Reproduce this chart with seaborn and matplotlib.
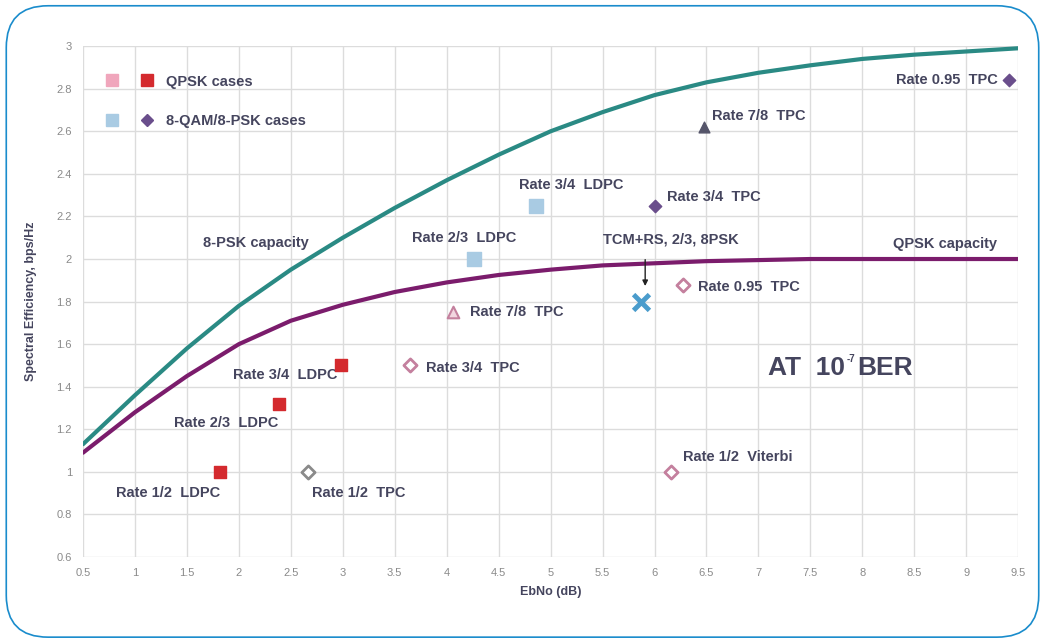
import numpy as np
import pandas as pd
import matplotlib.pyplot as plt
import seaborn as sns
from matplotlib.patches import FancyBboxPatch
from matplotlib.lines import Line2D
from matplotlib.legend_handler import HandlerTuple

# capacity curves
ebno = [0.5, 1, 1.5, 2, 2.5, 3, 3.5, 4, 4.5, 5, 5.5, 6, 6.5, 7, 7.5, 8, 8.5, 9, 9.5]
psk8_cap = [1.13, 1.36, 1.58, 1.78, 1.95, 2.10, 2.24, 2.37, 2.49, 2.60, 2.69, 2.77, 2.83,
            2.875, 2.91, 2.94, 2.96, 2.975, 2.99]
qpsk_cap = [1.09, 1.28, 1.45, 1.60, 1.71, 1.785, 1.845, 1.89, 1.925, 1.95, 1.97, 1.98, 1.99,
            1.995, 2.0, 2.0, 2.0, 2.0, 2.0]

# QPSK LDPC (red squares)
qpsk_ldpc_x = [1.82, 2.39, 2.98]
qpsk_ldpc_y = [1.0, 1.32, 1.5]
# 8-PSK LDPC (light blue squares)
psk8_ldpc_x = [4.26, 4.86]
psk8_ldpc_y = [2.0, 2.25]
# QPSK TPC / Viterbi (open diamonds)
qpsk_tpc_x = [3.65, 6.27, 6.16]
qpsk_tpc_y = [1.5, 1.88, 1.0]
# rate 1/2 TPC (grey open diamond)
tpc12_x = [2.67]
tpc12_y = [1.0]
# QPSK rate 7/8 TPC (open triangle)
qpsk_tpc78_x = [4.06]
qpsk_tpc78_y = [1.75]
# 8-PSK TPC (filled diamonds)
psk8_tpc_x = [6.0, 9.41]
psk8_tpc_y = [2.25, 2.84]
# 8-PSK rate 7/8 TPC (filled triangle)
psk8_tpc78_x = [6.48]
psk8_tpc78_y = [2.62]
# TCM+RS
tcm_x = [5.87]
tcm_y = [1.80]

txt = "#45455e"
teal = "#2a8a84"
purple = "#7b1c6c"
red = "#d42a2e"
pink = "#f0a6bc"
lblue = "#a9cbe3"
dpurple = "#6a4e8c"
pinkline = "#c4809e"

sns.set_theme(style="whitegrid")
plt.rcParams['font.family'] = ['Liberation Sans', 'DejaVu Sans']

fig = plt.figure(figsize=(10.45, 6.41), dpi=100)
ax = fig.add_axes([0.0794, 0.131, 0.895, 0.797])

df = pd.DataFrame({"ebno": ebno, "psk8": psk8_cap, "qpsk": qpsk_cap})
sns.lineplot(data=df, x="ebno", y="psk8", color=teal, lw=3, ax=ax)
sns.lineplot(data=df, x="ebno", y="qpsk", color=purple, lw=3, ax=ax)

ax.scatter(qpsk_ldpc_x, qpsk_ldpc_y, marker="s", s=80, color=red, zorder=5)
ax.scatter(psk8_ldpc_x, psk8_ldpc_y, marker="s", s=110, color=lblue, zorder=5)
ax.scatter(qpsk_tpc_x, qpsk_tpc_y, marker="D", s=45, facecolor="white",
           edgecolor=pinkline, linewidths=2, zorder=5)
ax.scatter(tpc12_x, tpc12_y, marker="D", s=45, facecolor="white",
           edgecolor="#8a8a8a", linewidths=2, zorder=5)
ax.scatter(qpsk_tpc78_x, qpsk_tpc78_y, marker="^", s=70, facecolor="#f2d6e0",
           edgecolor=pinkline, linewidths=1.5, zorder=5)
ax.scatter(psk8_tpc_x, psk8_tpc_y, marker="D", s=40, color=dpurple, zorder=5)
ax.scatter(psk8_tpc78_x, psk8_tpc78_y, marker="^", s=60, color="#55556a", zorder=5)
ax.scatter(tcm_x, tcm_y, marker="x", s=130, color="#4a9ccc", linewidths=3.5, zorder=5)

ax.set_xlim(0.5, 9.5)
ax.set_ylim(0.6, 3.0)
ax.set_xticks(np.arange(0.5, 9.51, 0.5))
ax.set_xticklabels([f"{v:g}" for v in np.arange(0.5, 9.51, 0.5)])
ax.set_yticks(np.arange(0.6, 3.01, 0.2))
ax.set_yticklabels([f"{v:g}" for v in np.round(np.arange(0.6, 3.01, 0.2), 1)])
ax.tick_params(labelsize=8, colors="#8a8a8a", length=0, pad=8)
ax.grid(color="#dcdcdc", lw=1)
for s in ax.spines.values():
    s.set_visible(False)
ax.set_facecolor("white")
ax.set_xlabel("EbNo (dB)", fontsize=9, fontweight="bold", color=txt, labelpad=6)
ax.set_ylabel("Spectral Efficiency, bps/Hz", fontsize=9, fontweight="bold", color=txt, labelpad=14)

fs = 10.5
kw = dict(fontsize=fs, fontweight="bold", color=txt)
ax.text(2.16, 2.075, "8-PSK capacity", ha="center", va="center", **kw)
ax.text(9.3, 2.07, "QPSK capacity", ha="right", va="center", **kw)
ax.text(2.95, 1.455, "Rate 3/4  LDPC", ha="right", va="center", **kw)
ax.text(1.88, 1.23, "Rate 2/3  LDPC", ha="center", va="center", **kw)
ax.text(1.32, 0.90, "Rate 1/2  LDPC", ha="center", va="center", **kw)
ax.text(2.70, 0.90, "Rate 1/2  TPC", ha="left", va="center", **kw)
ax.text(3.80, 1.49, "Rate 3/4  TPC", ha="left", va="center", **kw)
ax.text(4.22, 1.75, "Rate 7/8  TPC", ha="left", va="center", **kw)
ax.text(4.17, 2.10, "Rate 2/3  LDPC", ha="center", va="center", **kw)
ax.text(5.20, 2.35, "Rate 3/4  LDPC", ha="center", va="center", **kw)
ax.text(6.12, 2.29, "Rate 3/4  TPC", ha="left", va="center", **kw)
ax.text(6.55, 2.67, "Rate 7/8  TPC", ha="left", va="center", **kw)
ax.text(9.30, 2.84, "Rate 0.95  TPC", ha="right", va="center", **kw)
ax.text(5.50, 2.09, "TCM+RS, 2/3, 8PSK", ha="left", va="center", **kw)
ax.text(6.42, 1.87, "Rate 0.95  TPC", ha="left", va="center", **kw)
ax.text(6.27, 1.07, "Rate 1/2  Viterbi", ha="left", va="center", **kw)

# "AT 10^-7 BER" with a small superscript
big = dict(fontsize=19, fontweight="bold", color=txt)
t1 = ax.text(7.09, 1.49, "AT  10", ha="left", va="center", **big)
t2 = ax.annotate("-7", xy=(1, 1), xycoords=t1, xytext=(1, -6), textcoords="offset points",
                 ha="left", va="bottom", fontsize=7, fontweight="bold", color=txt)
ax.annotate("BER", xy=(1, 0), xycoords=t1, xytext=(9, 0), textcoords="offset points",
            ha="left", va="bottom", **big)

ax.annotate("", xy=(5.91, 1.86), xytext=(5.91, 2.01),
            arrowprops=dict(arrowstyle="-|>", color="#222222", lw=1, mutation_scale=8))

# legend
h_pink = Line2D([], [], marker="s", ls="", ms=8, color=pink)
h_red = Line2D([], [], marker="s", ls="", ms=8, color=red)
h_blue = Line2D([], [], marker="s", ls="", ms=9, color=lblue)
h_dia = Line2D([], [], marker="D", ls="", ms=6, color=dpurple)
leg = ax.legend([(h_pink, h_red), (h_blue, h_dia)], ["QPSK cases", "8-QAM/8-PSK cases"],
                handler_map={tuple: HandlerTuple(ndivide=None, pad=1.5)},
                loc="upper left", bbox_to_anchor=(0.01, 0.97), frameon=False,
                handlelength=3.3, labelspacing=1.75, handletextpad=0.85,
                prop={"size": fs, "weight": "bold", "family": "Liberation Sans"})
for t in leg.get_texts():
    t.set_color(txt)

# rounded frame around the figure
frame = FancyBboxPatch((0.006, 0.006), 0.988, 0.985, boxstyle="round,pad=0,rounding_size=0.04",
                       transform=fig.transFigure, fill=False, edgecolor="#1a8ccc", lw=1.2,
                       mutation_aspect=1045 / 641)
fig.patches.append(frame)

fig.savefig("out.png", dpi=100)
